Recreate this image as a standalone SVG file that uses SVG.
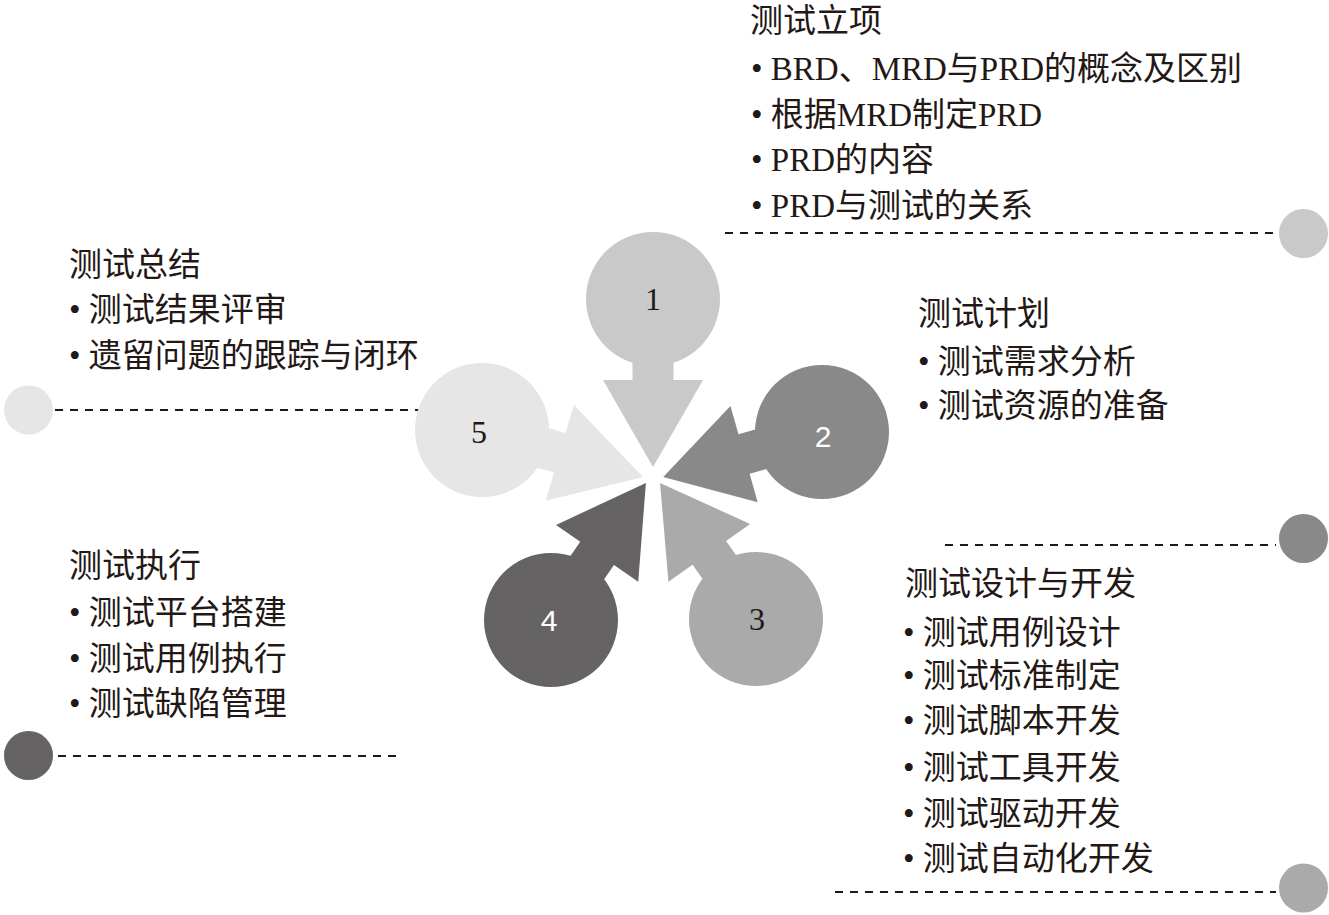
<svg xmlns="http://www.w3.org/2000/svg" width="1329" height="915" viewBox="0 0 1329 915">
<style>
.t{font-family:"Liberation Serif","Noto Sans CJK SC",serif;font-size:33px;fill:#231815}
.ns{font-family:"Liberation Serif",serif;font-size:32px;fill:#231815;text-anchor:middle}
.nw{font-family:"Liberation Sans",sans-serif;font-size:30px;fill:#ffffff;text-anchor:middle}
.dash{stroke:#231815;stroke-width:2;stroke-dasharray:8 7;fill:none}
.c1{fill:#c9c9c9}.c2{fill:#898989}.c3{fill:#aaaaaa}.c4{fill:#666364}.c5{fill:#e6e6e6}
</style>
<rect width="1329" height="915" fill="#ffffff"/>
<g id="connectors">
<line class="dash" x1="725" y1="233" x2="1276" y2="233"/>
<line class="dash" x1="945" y1="545" x2="1276" y2="545"/>
<line class="dash" x1="835" y1="892" x2="1276" y2="892"/>
<line class="dash" x1="55" y1="410" x2="420" y2="410"/>
<line class="dash" x1="58" y1="756" x2="398" y2="756"/>
</g>
<g id="node1">
<path class="c1" transform="translate(653,299) rotate(90)" d="M0,-20.5 H81 V-50 L168,0 L81,50 V20.5 H0 Z"/>
<circle class="c1" cx="653" cy="299" r="67"/>
<text class="ns" x="653" y="310">1</text>
</g>
<g id="node2">
<path class="c2" transform="translate(822,432) rotate(164.2)" d="M0,-20.5 H81 V-50 L165,0 L81,50 V20.5 H0 Z"/>
<circle class="c2" cx="822" cy="432" r="67"/>
<text class="nw" x="823" y="447">2</text>
</g>
<g id="node3">
<path class="c3" transform="translate(756,619) rotate(-125.2)" d="M0,-20.5 H81 V-50 L166.5,0 L81,50 V20.5 H0 Z"/>
<circle class="c3" cx="756" cy="619" r="67"/>
<text class="ns" x="757" y="630">3</text>
</g>
<g id="node4">
<path class="c4" transform="translate(551,620) rotate(-55.3)" d="M0,-20.5 H81 V-50 L166.7,0 L81,50 V20.5 H0 Z"/>
<circle class="c4" cx="551" cy="620" r="67"/>
<text class="nw" x="549" y="631">4</text>
</g>
<g id="node5">
<path class="c5" transform="translate(482,430) rotate(16.3)" d="M0,-20.5 H81 V-50 L167.7,0 L81,50 V20.5 H0 Z"/>
<circle class="c5" cx="482" cy="430" r="67"/>
<text class="ns" x="479" y="443">5</text>
</g>
<g id="dot1"><circle class="c1" cx="1303.5" cy="233.5" r="24.5"/></g>
<g id="dot2"><circle class="c2" cx="1303.5" cy="538.5" r="24.5"/></g>
<g id="dot3"><circle class="c3" cx="1303.5" cy="888" r="24.5"/></g>
<g id="dot5"><circle class="c5" cx="28.5" cy="410" r="24.5"/></g>
<g id="dot4"><circle class="c4" cx="28.5" cy="755.5" r="24.5"/></g>
<g id="text1">
<text class="t" x="750" y="32">测试立项</text>
<text class="t" x="751" y="80">• BRD、MRD与PRD的概念及区别</text>
<text class="t" x="751" y="126">• 根据MRD制定PRD</text>
<text class="t" x="751" y="171">• PRD的内容</text>
<text class="t" x="751" y="217">• PRD与测试的关系</text>
</g>
<g id="text2">
<text class="t" x="918" y="325">测试计划</text>
<text class="t" x="918" y="373">• 测试需求分析</text>
<text class="t" x="918" y="417">• 测试资源的准备</text>
</g>
<g id="text3">
<text class="t" x="905" y="595">测试设计与开发</text>
<text class="t" x="903" y="644">• 测试用例设计</text>
<text class="t" x="903" y="687">• 测试标准制定</text>
<text class="t" x="903" y="732">• 测试脚本开发</text>
<text class="t" x="903" y="779">• 测试工具开发</text>
<text class="t" x="903" y="825">• 测试驱动开发</text>
<text class="t" x="903" y="870">• 测试自动化开发</text>
</g>
<g id="text4">
<text class="t" x="69" y="577">测试执行</text>
<text class="t" x="69" y="624">• 测试平台搭建</text>
<text class="t" x="69" y="670">• 测试用例执行</text>
<text class="t" x="69" y="715">• 测试缺陷管理</text>
</g>
<g id="text5">
<text class="t" x="69" y="276">测试总结</text>
<text class="t" x="69" y="321">• 测试结果评审</text>
<text class="t" x="69" y="367">• 遗留问题的跟踪与闭环</text>
</g>
</svg>
